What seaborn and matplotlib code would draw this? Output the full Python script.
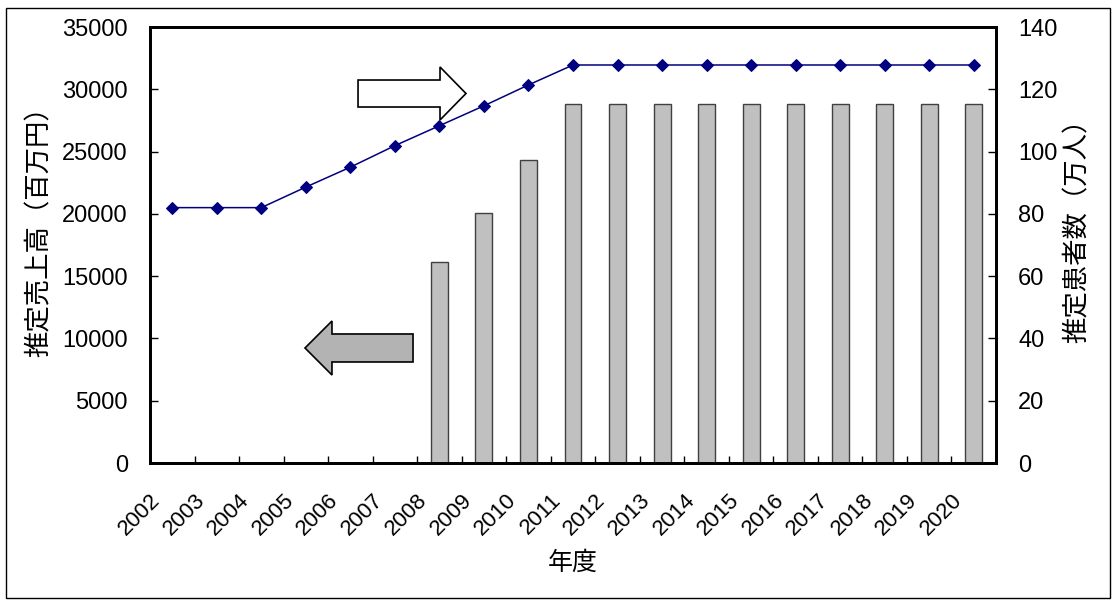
import numpy as np
import pandas as pd
import matplotlib
matplotlib.use("Agg")
import matplotlib.pyplot as plt
from matplotlib.patches import Polygon, Rectangle
from matplotlib.transforms import ScaledTranslation, blended_transform_factory
import seaborn as sns

# Fiscal years on the category axis
years = [str(y) for y in range(2002, 2021)]

# Estimated sales (million yen), available from FY2008 on
sales_years = [str(y) for y in range(2008, 2021)]
sales = [16150, 20100, 24300, 28800, 28800, 28800, 28800, 28800,
         28800, 28800, 28800, 28800, 28800]

# Estimated number of patients (10k persons)
patients = [82.0, 82.0, 82.0, 88.6, 95.0, 101.9, 108.3, 114.7, 121.4, 127.8,
            127.8, 127.8, 127.8, 127.8, 127.8, 127.8, 127.8, 127.8, 127.8]

left_ticks = list(range(0, 35001, 5000))
right_ticks = list(range(0, 141, 20))

sns.set_style("white")
plt.rcParams["font.family"] = ["Liberation Sans", "Noto Sans CJK JP"]

W, H = 1112, 601
fig = plt.figure(figsize=(W / 100, H / 100), dpi=100)
ax = fig.add_axes([150 / W, 1 - 463 / H, 846 / W, 436 / H])

sales_df = pd.DataFrame({"year": sales_years, "sales": sales})
sns.barplot(data=sales_df, x="year", y="sales", order=years, width=0.38,
            color="#c0c0c0", saturation=1, edgecolor="#404040", linewidth=1,
            ax=ax, zorder=2)

ax2 = ax.twinx()
pos = np.arange(len(years))
sns.lineplot(x=pos, y=patients, ax=ax2, color="#000080", marker="D",
             markersize=6.5, markeredgecolor="#000080", linewidth=1.1)

ax.set_xlim(-0.5, len(years) - 0.5)
ax.set_ylim(0, 35000)
ax2.set_ylim(0, 140)
ax.set_yticks(left_ticks)
ax.set_yticklabels([str(v) for v in left_ticks])
ax2.set_yticks(right_ticks)
ax2.set_yticklabels([str(v) for v in right_ticks])

# tick marks between categories; year labels drawn under category centres
ax.set_xticks(np.arange(0.5, len(years) - 1, 1.0))
ax.set_xticklabels([])
ax.tick_params(axis="x", which="major", direction="in", length=5, width=1,
               color="black", bottom=True)
label_trans = (blended_transform_factory(ax.transData, ax.transAxes)
               + ScaledTranslation(-15 / 100, -34 / 100, fig.dpi_scale_trans))
for x, yr in zip(pos, years):
    ax.text(x, 0, yr, transform=label_trans, rotation=45, ha="right",
            va="center", rotation_mode="anchor", fontsize=16, color="black")

ax.tick_params(axis="y", direction="in", length=6, width=1, color="black",
               left=True, labelsize=17, pad=16, labelcolor="black")
ax2.tick_params(axis="y", direction="in", length=6, width=1, color="black",
                right=True, labelsize=17, pad=16, labelcolor="black")

for a in (ax, ax2):
    for sp in a.spines.values():
        sp.set_color("black")
        sp.set_linewidth(2)

ax.set_ylabel("推定売上高（百万円）", fontsize=19, color="black")
ax.yaxis.set_label_coords(-0.1158, 0.545)
ax2.set_ylabel("推定患者数（万人）", fontsize=19, color="black")
ax2.yaxis.set_label_coords(1.0816, 0.548)
ax.set_xlabel("年度", fontsize=18, color="black")
ax.xaxis.set_label_coords(0.5, -0.2018)

# direction arrows: right-pointing for the patient line, left-pointing for the bars
right_arrow = [(0.2459, 0.8784), (0.3428, 0.8784), (0.3428, 0.9083),
               (0.3735, 0.8475), (0.3428, 0.7867), (0.3428, 0.8165),
               (0.2459, 0.8165)]
left_arrow = [(0.3109, 0.2959), (0.2151, 0.2959), (0.2151, 0.3257),
              (0.1832, 0.2638), (0.2151, 0.2018), (0.2151, 0.2317),
              (0.3109, 0.2317)]
ax.add_patch(Polygon(right_arrow, closed=True, transform=ax.transAxes,
                     facecolor="white", edgecolor="black", linewidth=1.2, zorder=3))
ax.add_patch(Polygon(left_arrow, closed=True, transform=ax.transAxes,
                     facecolor="#b3b3b3", edgecolor="black", linewidth=1.2, zorder=3))

fig.add_artist(Rectangle((6 / W, 3 / H), 1104 / W, 590 / H,
                         transform=fig.transFigure, fill=False,
                         edgecolor="black", linewidth=1))

fig.savefig("out.png", dpi=100)
